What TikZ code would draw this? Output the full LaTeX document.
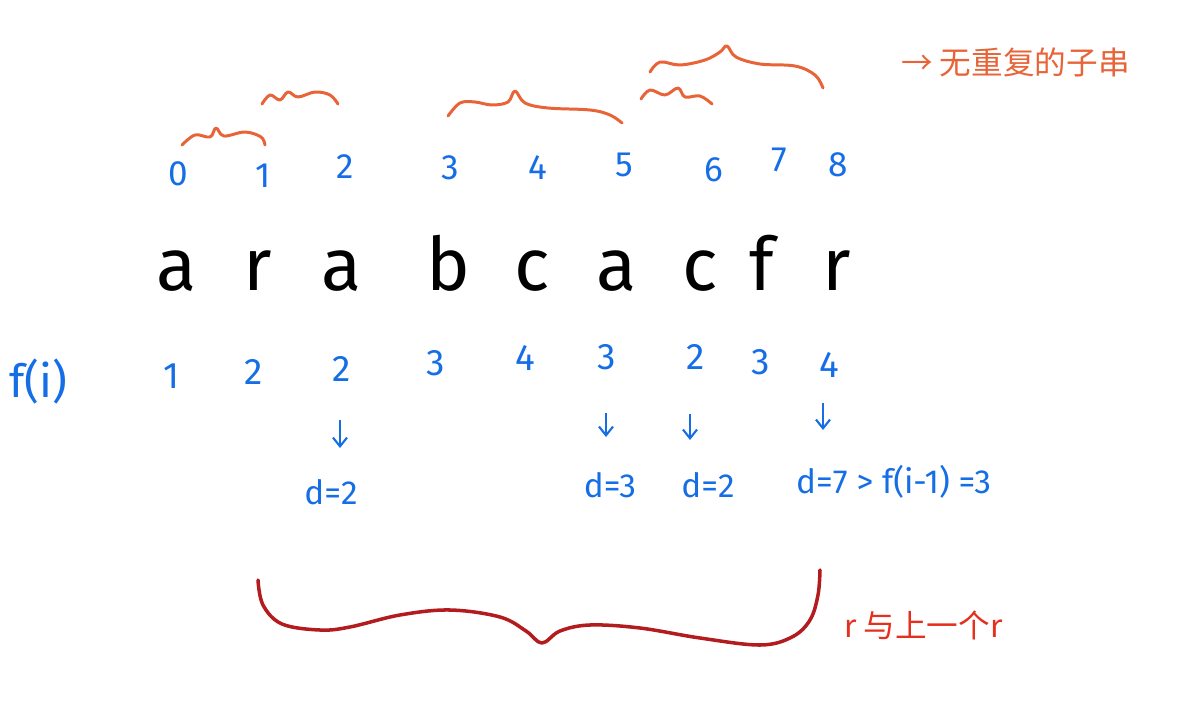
\documentclass[tikz,border=0pt]{standalone}
\usepackage{fontspec}
\setmainfont{Fira Sans}
\newfontfamily\cjk{Noto Sans CJK SC}
\usetikzlibrary{arrows.meta}
\definecolor{penblue}{RGB}{21,110,230}
\definecolor{penorange}{RGB}{232,100,56}
\definecolor{pendark}{RGB}{178,28,30}
\definecolor{penred}{RGB}{228,48,30}
\tikzset{
  idx/.style={text=penblue,font=\fontsize{20}{20}\selectfont},
  chr/.style={anchor=base,font=\fontsize{42}{42}\selectfont},
  fval/.style={text=penblue,font=\fontsize{21}{21}\selectfont},
  dlab/.style={text=penblue,font=\fontsize{19}{19}\selectfont},
  darr/.style={penblue,line width=1.2pt,-{Straight Barb[length=5pt,width=8pt]}},
  obrace/.style={penorange,line width=1.7pt,line cap=round,line join=round},
}
\begin{document}
\begin{tikzpicture}[x=0.02cm,y=-0.02cm]
  \useasboundingbox (0,0) rectangle (1184,703);
  % indices
  \foreach \n/\x/\y in {0/178/174,1/263/176,2/345/167,3/450/168,4/538/168,5/624/165,6/714/170,7/779/160,8/838/165}
    \node[idx] (i\n) at (\x,\y) {\n};
  % string
  \foreach \n/\x/\c in {0/177/a,1/258/r,2/342/a,3/448/b,4/532/c,5/617/a,6/700/c,7/762/f,8/837/r}
    \node[chr] (s\n) at (\x,290) {\c};
  % f(i) row
  \node[text=penblue,font=\fontsize{26}{26}\selectfont] (flab) at (38,382) {f(i)};
  \foreach \n/\x/\y/\v in {0/171/376/1,1/254/372/2,2/342/369/2,3/436/363/3,4/525/358/4,5/607/357/3,6/696/357/2,7/761/362/3,8/829/365/4}
    \node[fval] (f\n) at (\x,\y) {\v};
  % d labels
  \node[dlab] (d2) at (331,492) {d=2};
  \node[dlab] (d5) at (610,485) {d=3};
  \node[dlab] (d6) at (708,485) {d=2};
  \node[dlab,anchor=west] (d8) at (790,482) {d=7 > f(i-1) =3};
  \coordinate (b2) at (340,448); \draw[darr] (f2) ++(-2,51) -- (b2);
  \coordinate (b5) at (606,437); \draw[darr] (f5) ++(-1,56) -- (b5);
  \coordinate (b6) at (690,440); \draw[darr] (f6) ++(-6,57) -- (b6);
  \coordinate (b8) at (823,430); \draw[darr] (f8) ++(-6,38) -- (b8);
  % orange braces
  \draw[obrace] plot[smooth,tension=0.6] coordinates {(182,145) (195,135) (210,137) (216,128) (224,136) (245,132) (261,137) (265,145)};
  \draw[obrace] plot[smooth,tension=0.6] coordinates {(262,104) (270,95) (280,100) (288,92) (298,97) (315,92) (330,95) (338,104)};
  \draw[obrace] plot[smooth,tension=0.6] coordinates {(448,116) (460,103) (475,102) (492,105) (508,102) (515,91) (525,103) (548,108) (590,110) (610,115) (622,123)};
  \draw[obrace] plot[smooth,tension=0.6] coordinates {(641,99) (650,90) (665,95) (678,88) (685,97) (700,96) (712,104)};
  \draw[obrace] plot[smooth,tension=0.6] coordinates {(650,72) (660,62) (680,65) (705,60) (720,52) (727,46) (736,57) (760,64) (795,66) (815,75) (823,88)};
  \node[text=penorange,font=\cjk\fontsize{18}{18}\selectfont,anchor=west] (note) at (895,62) {→\ 无重复的子串};
  % dark red brace
  \draw[pendark,line width=2pt,line cap=round,line join=round] plot[smooth,tension=0.6] coordinates {(258,580) (263,605) (282,624) (320,630) (350,627) (400,615) (450,610) (500,617) (526,631) (542,643) (560,631) (590,625) (640,628) (700,638) (760,645) (792,637) (810,620) (818,595) (820,570)};
  \node[text=penred,font=\cjk\fontsize{18}{18}\selectfont,anchor=west] (rnote) at (838,625) {r 与上一个r};
\end{tikzpicture}
\end{document}
